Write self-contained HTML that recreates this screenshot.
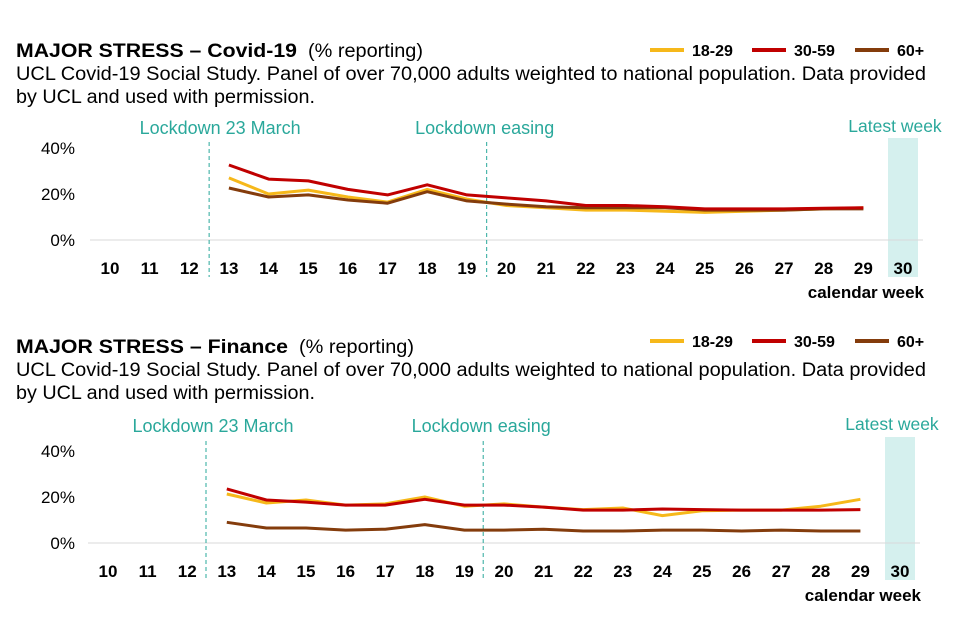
<!DOCTYPE html>
<html><head><meta charset="utf-8"><style>
body{margin:0;background:#fff;}
svg{display:block;font-family:"Liberation Sans",Arial,sans-serif;}
</style></head><body>
<svg id="c" width="960" height="640" viewBox="0 0 960 640"></svg>
<script>
const weeks=[10,11,12,13,14,15,16,17,18,19,20,21,22,23,24,25,26,27,28,29,30];
const dataWeeks=[13,14,15,16,17,18,19,20,21,22,23,24,25,26,27,28,29];
const covidYoung=[27,20,21.7,18.7,16.5,22,17.8,15,14,13,13,12.5,12,12.5,13,13.5,14];
const covidMid=[32.6,26.5,25.7,22,19.6,24,19.6,18.3,17,15,15,14.5,13.5,13.5,13.5,13.8,14];
const covidOld=[22.6,18.7,19.6,17.4,16,21,17,15.6,14.5,14,14,14,13,13,13,13.5,13.5];
const finYoung=[21.3,17.4,18.7,16.5,17,20,16,17,15.6,14.5,15.2,11.9,14,14.3,14.3,16,19];
const finMid=[23.5,18.7,17.8,16.5,16.5,19,16.5,16.5,15.6,14.3,14.3,14.8,14.5,14.3,14.3,14.3,14.5];
const finOld=[9,6.5,6.5,5.6,6,8,5.6,5.6,6,5.2,5.2,5.6,5.6,5.2,5.6,5.2,5.2];
const yTicks=[0,20,40];
const colors={young:'#f6b81a',mid:'#c00000',old:'#843c0c'};
const NS='http://www.w3.org/2000/svg';
const svg=document.getElementById('c');
function mk(tag,attrs,parent,text){const e=document.createElementNS(NS,tag);for(const k in attrs)e.setAttribute(k,attrs[k]);if(text!==undefined)e.textContent=text;(parent||svg).appendChild(e);return e;}
function chart(cfg){
  const g=mk('g',{});
  
  
  const x=w=>cfg.x0+(w-10)*(cfg.x30-cfg.x0)/20;
  const y=v=>cfg.y0-v*2.3;
  const t=mk('text',{x:16,y:cfg.titleY,'font-size':19,'font-weight':'bold',fill:'#000',textLength:cfg.titleLen,lengthAdjust:'spacingAndGlyphs'},g,cfg.title);
  
  
  const t2=mk('text',{x:cfg.titleLen+27,y:cfg.titleY,'font-size':19,fill:'#000',textLength:115,lengthAdjust:'spacingAndGlyphs'},g,'(% reporting)');
  
  
  const s1=mk('text',{x:16,y:cfg.titleY+23,'font-size':19,fill:'#000',textLength:910,lengthAdjust:'spacingAndGlyphs'},g,'UCL Covid-19 Social Study. Panel of over 70,000 adults weighted to national population. Data provided');
  
  
  const s2=mk('text',{x:16,y:cfg.titleY+46,'font-size':19,fill:'#000',textLength:299,lengthAdjust:'spacingAndGlyphs'},g,'by UCL and used with permission.');
  
  
  const leg=[['18-29',colors.young,650],['30-59',colors.mid,752],['60+',colors.old,855]];
  leg.forEach(l=>{
    const le=mk('g',{},g);
    
    
    mk('line',{x1:cfg.legX+(l[2]-650),x2:cfg.legX+(l[2]-650)+34,y1:cfg.legY,y2:cfg.legY,stroke:l[1],'stroke-width':4},le);
    mk('text',{x:cfg.legX+(l[2]-650)+42,y:cfg.legY+6,'font-size':16,'font-weight':'bold'},le,l[0]);
  });
  const sh=mk('rect',{x:x(30)-15,y:cfg.shadeTop,width:30,height:cfg.shadeBot-cfg.shadeTop,fill:'#d5f0ee'},g);
  
  
  const lw=mk('text',{x:x(30)-8,y:cfg.annY,'font-size':17.5,fill:'#2aa89b','text-anchor':'middle'},g,'Latest week');
  
  
  const ax=mk('line',{x1:cfg.x0-20,x2:cfg.x30+20,y1:y(0),y2:y(0),stroke:'#d9d9d9','stroke-width':1},g);
  
  
  yTicks.forEach(v=>{
    const tl=mk('text',{x:75,y:y(v)+6,'font-size':17,'text-anchor':'end'},g,v+'%');
    
    
  });
  weeks.forEach(w=>{
    const tl=mk('text',{x:x(w),y:cfg.y0+34,'font-size':17,'font-weight':'bold','text-anchor':'middle'},g,w);
    
    
  });
  const cw=mk('text',{x:cfg.x30+21,y:cfg.y0+58,'font-size':17,'font-weight':'bold','text-anchor':'end'},g,'calendar week');
  
  
  [[12.5,'Lockdown 23 March',cfg.ld1,cfg.lab1],[19.5,'Lockdown easing',cfg.ld2,cfg.lab2]].forEach(a=>{
    const lx=x(a[0])+a[2];
    const ln=mk('line',{x1:lx,x2:lx,y1:cfg.shadeTop+4,y2:cfg.shadeBot,stroke:'#2aa89b','stroke-width':1,'stroke-dasharray':'4,3'},g);
    
    
    const at=mk('text',{x:lx+a[3],y:cfg.annY+2,'font-size':18,fill:'#2aa89b','text-anchor':'middle'},g,a[1]);
    
    
  });
  [[cfg.young,colors.young,'series-18-29'],[cfg.old,colors.old,'series-60-plus'],[cfg.mid,colors.mid,'series-30-59']].forEach(sr=>{
    const pts=sr[0].map((v,i)=>x(dataWeeks[i]).toFixed(1)+','+y(v).toFixed(1)).join(' ');
    const pl=mk('polyline',{points:pts,fill:'none',stroke:sr[1],'stroke-width':3,'stroke-linejoin':'round'},g);
    
    
  });
}
chart({name:'covid-stress-chart',title:'MAJOR STRESS – Covid-19',titleLen:281,young:covidYoung,mid:covidMid,old:covidOld,
  x0:110,x30:903,y0:240,titleY:57,legX:650,legY:50,shadeTop:138,shadeBot:277,annY:132,ld1:0,ld2:0,lab1:11,lab2:-2});
chart({name:'finance-stress-chart',title:'MAJOR STRESS – Finance',titleLen:272,young:finYoung,mid:finMid,old:finOld,
  x0:108,x30:900,y0:543,titleY:353,legX:650,legY:341,shadeTop:437,shadeBot:580,annY:430,ld1:-1,ld2:-1,lab1:7,lab2:-2});
</script>
</body></html>
